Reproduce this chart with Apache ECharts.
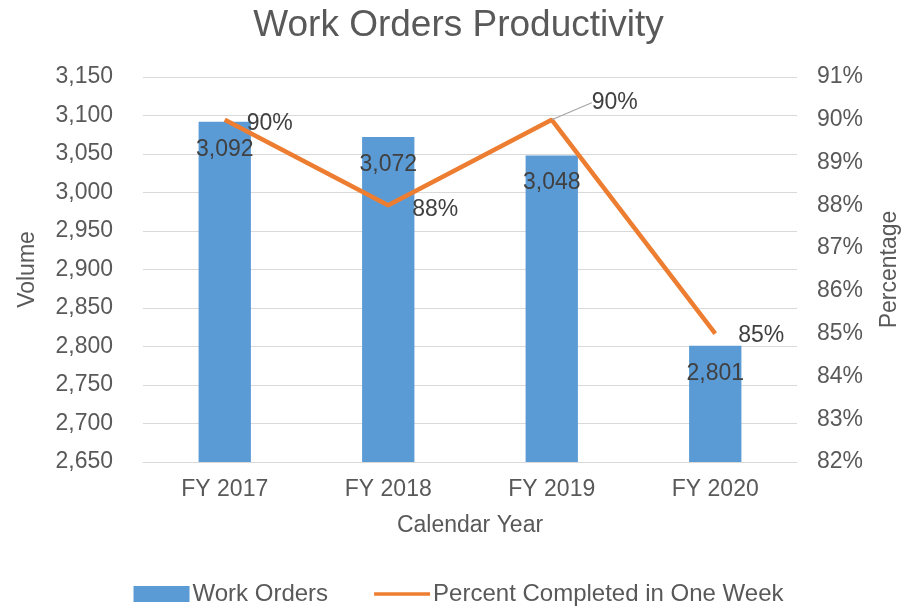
<!DOCTYPE html>
<html>
<head>
<meta charset="utf-8">
<script src="https://cdn.jsdelivr.net/npm/echarts@6/dist/echarts.min.js"></script>
<style>
  html, body { margin: 0; padding: 0; background: #fff; }
  #chart { width: 917px; height: 607px; }
</style>
</head>
<body>
<div id="chart"></div>
<script>
// Fiscal years on the category axis
const years = ['FY 2017', 'FY 2018', 'FY 2019', 'FY 2020'];
// Work orders handled per year (left axis)
const workOrders = [3092, 3072, 3048, 2801];
// Share of work orders completed within one week, in percent (right axis)
const pctOneWeek = [90, 88, 90, 85];

const textColor = '#595959';
const labelColor = '#404040';
const font = 'Liberation Sans, Arial, sans-serif';

// Per-point label nudges for the percentage line; the FY 2019 label is
// lifted above the line and tied back to its point with a leader.
const pctLabelOffsets = [[14, 4], [16, 4], [32, -17], [15, 2]];
const pctData = pctOneWeek.map((v, i) => ({
  value: v,
  labelLine: { show: i === 2 }
}));

const chart = echarts.init(document.getElementById('chart'));
chart.setOption({
  animation: false,
  backgroundColor: '#ffffff',
  textStyle: { fontFamily: font, color: textColor },
  title: {
    text: 'Work Orders Productivity',
    left: 'center',
    top: 2,
    textStyle: { fontFamily: font, fontSize: 37, fontWeight: 'normal', color: textColor }
  },
  legend: {
    top: 577,
    left: 'center',
    itemGap: 46,
    itemWidth: 56,
    itemHeight: 16,
    textStyle: { fontFamily: font, fontSize: 24, color: textColor, padding: [0, 0, 0, -2] },
    data: [
      { name: 'Work Orders', icon: 'rect' },
      { name: 'Percent Completed in One Week', icon: 'path://M0,6 L60,6 L60,10 L0,10 Z' }
    ]
  },
  grid: { left: 143, right: 120, top: 77, bottom: 145, outerBoundsMode: 'none', containLabel: false },
  xAxis: {
    type: 'category',
    data: years,
    name: 'Calendar Year',
    nameLocation: 'middle',
    nameGap: 52,
    nameTextStyle: { fontFamily: font, fontSize: 23, color: textColor },
    axisLine: { lineStyle: { color: '#d9d9d9', width: 1 } },
    axisTick: { show: false },
    axisLabel: { fontFamily: font, fontSize: 23, color: textColor, margin: 16 }
  },
  yAxis: [
    {
      type: 'value',
      min: 2650,
      max: 3150,
      interval: 50,
      name: 'Volume',
      nameLocation: 'middle',
      nameGap: 104,
      nameTextStyle: { fontFamily: font, fontSize: 23, color: textColor },
      axisLine: { show: false },
      axisTick: { show: false },
      splitLine: { lineStyle: { color: '#d9d9d9', width: 1 } },
      axisLabel: {
        fontFamily: font, fontSize: 23, color: textColor, margin: 30,
        formatter: v => v.toLocaleString('en-US')
      }
    },
    {
      type: 'value',
      min: 82,
      max: 91,
      interval: 1,
      name: 'Percentage',
      nameLocation: 'middle',
      nameGap: 81,
      nameRotate: 90,
      nameTextStyle: { fontFamily: font, fontSize: 23, color: textColor },
      axisLine: { show: false },
      axisTick: { show: false },
      splitLine: { show: false },
      axisLabel: {
        fontFamily: font, fontSize: 23, color: textColor, margin: 20,
        formatter: v => v + '%'
      }
    }
  ],
  series: [
    {
      name: 'Work Orders',
      type: 'bar',
      yAxisIndex: 0,
      data: workOrders,
      barWidth: '32%',
      itemStyle: { color: '#5b9bd5' },
      label: {
        show: true,
        position: 'insideTop',
        distance: 16,
        fontFamily: font,
        fontSize: 23,
        color: labelColor,
        formatter: p => p.value.toLocaleString('en-US')
      }
    },
    {
      name: 'Percent Completed in One Week',
      type: 'line',
      yAxisIndex: 1,
      data: pctData,
      symbol: 'circle',
      symbolSize: 0,
      showSymbol: true,
      lineStyle: { color: '#ed7d31', width: 4.5 },
      itemStyle: { color: '#ed7d31' },
      label: {
        show: true,
        position: 'right',
        distance: 8,
        fontFamily: font,
        fontSize: 23,
        color: labelColor,
        formatter: p => p.value + '%'
      },
      labelLine: { show: false, lineStyle: { color: '#a6a6a6', width: 1.2 } },
      labelLayout: function (params) {
        const o = pctLabelOffsets[params.dataIndex];
        return { dx: o[0], dy: o[1] };
      }
    }
  ]
});
</script>
</body>
</html>
